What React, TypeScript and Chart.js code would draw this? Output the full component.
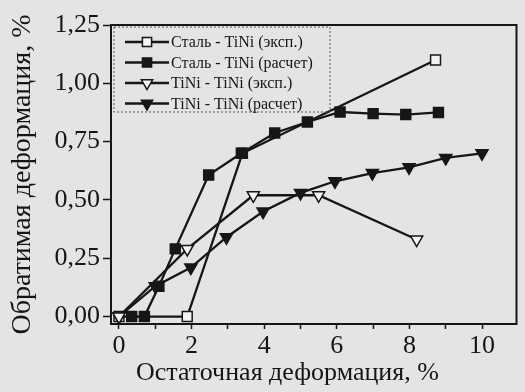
import React, { useEffect, useRef } from "react";
import { Chart, registerables } from "chart.js";
import { drawPoint } from "chart.js/helpers";

Chart.register(...registerables);

// ---- Data ----
const steelExpX = [0, 1.88, 3.4, 8.72];
const steelExpY = [0, 0, 0.7, 1.1];

const steelCalcX = [0.35, 0.7, 1.1, 1.55, 2.47, 3.37, 4.29, 5.19, 6.09, 7.0, 7.9, 8.8];
const steelCalcY = [0, 0, 0.13, 0.29, 0.607, 0.7, 0.787, 0.834, 0.877, 0.87, 0.866, 0.875];

const tiniExpX = [0, 1.88, 3.7, 5.5, 8.2];
const tiniExpY = [0, 0.29, 0.52, 0.52, 0.33];

const tiniCalcX = [0, 1.0, 1.98, 2.96, 3.97, 5.0, 5.95, 6.98, 7.99, 9.0, 10.0];
const tiniCalcY = [0, 0.13, 0.21, 0.34, 0.45, 0.53, 0.58, 0.615, 0.64, 0.68, 0.7];

const seriesLabels = [
  "Сталь - TiNi (эксп.)",
  "Сталь - TiNi (расчет)",
  "TiNi - TiNi (эксп.)",
  "TiNi - TiNi (расчет)",
];

const xTicks = [0, 1, 2, 3, 4, 5, 6, 7, 8, 9, 10];
const yTicks = [0, 0.25, 0.5, 0.75, 1.0, 1.25];

const xTitle = "Остаточная деформация, %";
const yTitle = "Обратимая деформация, %";

const INK = "#161616";
const BG = "#e4e4e4";
const FONT = "'Liberation Serif', 'Times New Roman', serif";

const zip = (xs: number[], ys: number[]) => xs.map((x, i) => ({ x, y: ys[i] }));

const bgPlugin = {
  id: "bgPlugin",
  beforeDraw(chart: any) {
    const { ctx, width, height } = chart;
    ctx.save();
    ctx.fillStyle = BG;
    ctx.fillRect(0, 0, width, height);
    ctx.restore();
  },
};

const framePlugin = {
  id: "framePlugin",
  afterDraw(chart: any) {
    const { ctx, chartArea } = chart;
    ctx.save();
    ctx.strokeStyle = INK;
    ctx.lineWidth = 2;
    ctx.strokeRect(chartArea.left, chartArea.top, chartArea.right - chartArea.left, chartArea.bottom - chartArea.top);
    // x-axis title, placed slightly left of the plot centre as in the source
    ctx.fillStyle = INK;
    ctx.font = `26px ${FONT}`;
    ctx.textAlign = "center";
    ctx.textBaseline = "middle";
    ctx.fillText(xTitle, chartArea.left + (chartArea.right - chartArea.left) * 0.435, chartArea.bottom + 49);
    ctx.restore();
  },
};

const legendPlugin = {
  id: "boxLegend",
  afterDraw(chart: any) {
    const { ctx, chartArea } = chart;
    const left = chartArea.left + 3;
    const top = chartArea.top + 2;
    const w = 216;
    const h = 85;
    ctx.save();
    ctx.strokeStyle = "#555";
    ctx.lineWidth = 1;
    ctx.setLineDash([2, 2]);
    ctx.strokeRect(left, top, w, h);
    ctx.setLineDash([]);
    chart.data.datasets.forEach((ds: any, i: number) => {
      const cy = top + 15 + i * 20.5;
      const x0 = left + 11;
      const x1 = left + 55;
      ctx.strokeStyle = INK;
      ctx.lineWidth = 2.5;
      ctx.beginPath();
      ctx.moveTo(x0, cy);
      ctx.lineTo(x1, cy);
      ctx.stroke();
      ctx.fillStyle = ds.pointBackgroundColor;
      ctx.strokeStyle = INK;
      ctx.lineWidth = 1.5;
      drawPoint(ctx, { pointStyle: ds.pointStyle, rotation: ds.pointRotation || 0, radius: 6.5, borderWidth: 1.5 }, (x0 + x1) / 2, cy);
      ctx.fillStyle = INK;
      ctx.font = `16px ${FONT}`;
      ctx.textBaseline = "middle";
      ctx.textAlign = "left";
      ctx.fillText(ds.label, x1 + 2, cy + 1);
    });
    ctx.restore();
  },
};

export default function App() {
  const ref = useRef<HTMLCanvasElement | null>(null);

  useEffect(() => {
    if (!ref.current) return;
    const common = {
      borderColor: INK,
      borderWidth: 2.3,
      pointBorderColor: INK,
      pointBorderWidth: 1.5,
      pointRadius: 7,
      showLine: true,
      tension: 0,
    };
    const chart = new Chart(ref.current, {
      type: "scatter",
      data: {
        datasets: [
          { ...common, order: 3, label: seriesLabels[0], data: zip(steelExpX, steelExpY), pointStyle: "rect", pointBackgroundColor: "#f4f4f4" },
          { ...common, order: 1, label: seriesLabels[1], data: zip(steelCalcX, steelCalcY), pointStyle: "rect", pointBackgroundColor: INK },
          { ...common, order: 0, label: seriesLabels[2], data: zip(tiniExpX, tiniExpY), pointStyle: "triangle", pointRotation: 180, pointBackgroundColor: "#f4f4f4" },
          { ...common, order: 2, label: seriesLabels[3], data: zip(tiniCalcX, tiniCalcY), pointStyle: "triangle", pointRotation: 180, pointBackgroundColor: INK },
        ] as any,
      },
      options: {
        animation: false,
        responsive: false,
        maintainAspectRatio: false,
        layout: { padding: { left: 0, top: 25, right: 3, bottom: 0 } },
        plugins: { legend: { display: false }, tooltip: { enabled: false } },
        scales: {
          x: {
            type: "linear",
            min: -0.22,
            max: 10.95,
            afterFit: (s: any) => { s.height = 68; },
            afterBuildTicks: (s: any) => { s.ticks = xTicks.map((v) => ({ value: v })); },
            grid: { drawOnChartArea: false, tickLength: 5, tickColor: INK, tickWidth: 1.5 },
            border: { display: false },
            ticks: {
              color: INK,
              font: { family: FONT, size: 26 },
              padding: 2,
              maxRotation: 0,
              autoSkip: false,
              callback: (v: any) => (Number(v) % 2 === 0 ? String(v) : ""),
            },
            title: { display: false },
          },
          y: {
            type: "linear",
            min: -0.032,
            max: 1.25,
            afterFit: (s: any) => { s.width = 111; },
            afterBuildTicks: (s: any) => { s.ticks = yTicks.map((v) => ({ value: v })); },
            grid: { drawOnChartArea: false, tickLength: 8, tickColor: INK, tickWidth: 1.5 },
            border: { display: false },
            ticks: {
              color: INK,
              font: { family: FONT, size: 26 },
              padding: 3,
              callback: (v: any) => Number(v).toFixed(2).replace(".", ","),
            },
            title: { display: true, text: yTitle, color: INK, font: { family: FONT, size: 28 }, padding: { top: 6, bottom: 0 } },
          },
        },
      },
      plugins: [bgPlugin, framePlugin, legendPlugin],
    });
    return () => chart.destroy();
  }, []);

  return (
    <div style={{ position: "absolute", left: 0, top: 0, width: 525, height: 392, background: BG }}>
      <canvas ref={ref} width={525} height={392} style={{ display: "block", width: 525, height: 392 }} />
    </div>
  );
}
